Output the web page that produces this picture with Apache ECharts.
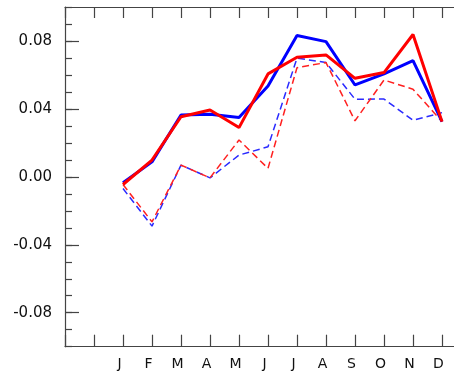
<!DOCTYPE html>
<html>
<head>
<meta charset="utf-8">
<script src="https://cdn.jsdelivr.net/npm/echarts@6/dist/echarts.min.js"></script>
<style>html,body{margin:0;padding:0;background:#fff;}#c{width:454px;height:374px;}</style>
</head>
<body>
<div id="c"></div>
<script>
var months = ['J','F','M','A','M','J','J','A','S','O','N','D'];
var yTickLabels = [-0.08, -0.04, 0.00, 0.04, 0.08];
var blueSolid  = [-0.0035, 0.0088, 0.0364, 0.0368, 0.0350, 0.0535, 0.0832, 0.0796, 0.0541, 0.0606, 0.0684, 0.0325];
var redSolid   = [-0.0045, 0.0099, 0.0354, 0.0394, 0.0290, 0.0606, 0.0704, 0.0718, 0.0580, 0.0614, 0.0838, 0.0325];
var blueDashed = [-0.0069, -0.0290, 0.0069, -0.0006, 0.0128, 0.0177, 0.0699, 0.0673, 0.0457, 0.0458, 0.0333, 0.0378];
var redDashed  = [-0.0045, -0.0265, 0.0069, -0.0006, 0.0217, 0.0050, 0.0643, 0.0673, 0.0330, 0.0570, 0.0516, 0.0325];

function pts(arr){ return arr.map(function(v,i){ return [i+1, v]; }); }
var monthPos = months.map(function(m,i){ return i+1; });

var axisColor = '#444';
var font = 'DejaVu Sans';
var chart = echarts.init(document.getElementById('c'), null, {renderer:'canvas'});
chart.setOption({
  animation:false,
  backgroundColor:'#fff',
  grid:{left:65, top:7, width:406, height:339.7, containLabel:false, outerBoundsMode:'none'},
  xAxis:[{
    type:'value', min:-1, max:13, interval:1, position:'bottom',
    axisLine:{show:true, onZero:false, lineStyle:{color:axisColor, width:1.2}},
    axisTick:{show:true, inside:true, length:12, lineStyle:{color:axisColor, width:1.2}},
    splitLine:{show:false},
    axisLabel:{show:true, customValues:monthPos, margin:11, fontFamily:font, fontSize:14, color:'#111',
      padding:[0,7,0,0],
      formatter:function(v){ var i=Math.round(v)-1; return months[i] || ''; }}
  },{
    type:'value', min:-1, max:13, interval:1, position:'top',
    axisLine:{show:true, onZero:false, lineStyle:{color:axisColor, width:1.2}},
    axisTick:{show:true, inside:true, length:11, lineStyle:{color:axisColor, width:1.2}},
    splitLine:{show:false}, axisLabel:{show:false}
  }],
  yAxis:[{
    type:'value', min:-0.1, max:0.1, interval:0.01, position:'left',
    axisLine:{show:true, onZero:false, lineStyle:{color:axisColor, width:1.2}},
    axisTick:{show:true, inside:true, length:7, lineStyle:{color:axisColor, width:1.2}},
    splitLine:{show:false}, axisLabel:{show:false}
  },{
    type:'value', min:-0.1, max:0.1, position:'left',
    axisLine:{show:false, onZero:false},
    axisTick:{show:true, inside:true, length:14, customValues:yTickLabels, lineStyle:{color:axisColor, width:1.2}},
    splitLine:{show:false},
    axisLabel:{show:true, customValues:yTickLabels, margin:13, fontFamily:font, fontSize:15, color:'#111',
      formatter:function(v){ return v.toFixed(2); }}
  }],
  series:[
    {type:'line', data:pts(blueDashed), symbol:'none', lineStyle:{color:'#2a2aff', width:1.5, type:[7,4]}},
    {type:'line', data:pts(redDashed), symbol:'none', lineStyle:{color:'#ff2020', width:1.5, type:[7,4]}},
    {type:'line', data:pts(blueSolid), symbol:'none', lineStyle:{color:'#0000ff', width:3}},
    {type:'line', data:pts(redSolid), symbol:'none', lineStyle:{color:'#ff0000', width:3}}
  ]
});
</script>
</body>
</html>
